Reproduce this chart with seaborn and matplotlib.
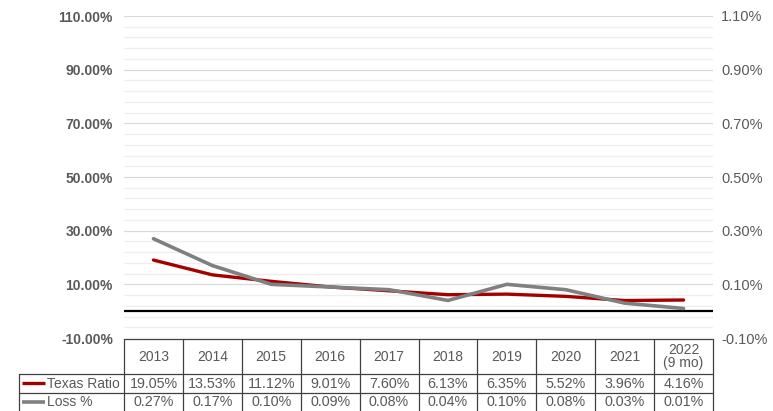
import matplotlib
matplotlib.use("Agg")
import matplotlib.pyplot as plt
import seaborn as sns
import pandas as pd
import numpy as np

sns.set_theme(style="white")
plt.rcParams['font.family'] = ['Liberation Sans', 'DejaVu Sans']

years = ["2013", "2014", "2015", "2016", "2017", "2018", "2019", "2020", "2021", "2022\n(9 mo)"]
texas_ratio = [19.05, 13.53, 11.12, 9.01, 7.60, 6.13, 6.35, 5.52, 3.96, 4.16]
loss_pct = [0.27, 0.17, 0.10, 0.09, 0.08, 0.04, 0.10, 0.08, 0.03, 0.01]
series_names = ["Texas Ratio", "Loss %"]
left_ticks = [-10, 10, 30, 50, 70, 90, 110]
right_ticks = [-0.10, 0.10, 0.30, 0.50, 0.70, 0.90, 1.10]

RED = "#A50000"
GREY = "#808080"
TXT = "#595959"

W, H = 773, 411
fig = plt.figure(figsize=(W / 100, H / 100), dpi=100)
L, R, T, B = 124, 713, 16, 338
ax = fig.add_axes([L / W, 1 - B / H, (R - L) / W, (B - T) / H])
ax.set_facecolor("none")

df = pd.DataFrame({"x": np.arange(len(years)), "texas": texas_ratio, "loss": loss_pct})

ax.set_xlim(-0.5, len(years) - 0.5)
ax.set_ylim(-10, 110)
ax.set_yticks(left_ticks)
ax.set_yticks(np.arange(-10, 111, 4), minor=True)
ax.set_yticklabels([f"{v:.2f}%" for v in left_ticks], fontsize=10, fontweight="bold", color=TXT)
ax.grid(True, which="major", axis="y", color="#D9D9D9", lw=0.9)
ax.grid(True, which="minor", axis="y", color="#EEEEEE", lw=0.9)
ax.set_xticks([])
ax.tick_params(axis="y", which="both", length=0, pad=8)
for s in ax.spines.values():
    s.set_visible(False)
ax.axhline(0, color="black", lw=1.6, zorder=3)

sns.lineplot(data=df, x="x", y="texas", ax=ax, color=RED, lw=2.4, zorder=4)
ax.set_xlabel("")
ax.set_ylabel("")

ax2 = ax.twinx()
ax2.set_ylim(-0.10, 1.10)
sns.lineplot(data=df, x="x", y="loss", ax=ax2, color=GREY, lw=2.6, zorder=5)
ax2.set_yticks(right_ticks)
ax2.set_yticklabels([f"{v:.2f}%" for v in right_ticks], fontsize=10.5, color=TXT)
ax2.tick_params(axis="y", length=0, pad=6)
ax2.set_xlabel("")
ax2.set_ylabel("")
ax2.set_xticks([])
for s in ax2.spines.values():
    s.set_visible(False)

# data table
tab = fig.add_axes([0, 0, 1, 1])
tab.set_xlim(0, W)
tab.set_ylim(H, 0)
tab.axis("off")
tab.set_facecolor("none")
LC = "#404040"
lw = 0.9
n = len(years)
colw = (R - L) / n
y_top, y_h, y_r1, y_r2 = 338.5, 373.5, 392.5, 411
x0 = 18.5
tab.plot([L, R], [y_top, y_top], color=LC, lw=lw)
tab.plot([x0, R], [y_h, y_h], color=LC, lw=lw)
tab.plot([x0, R], [y_r1, y_r1], color=LC, lw=lw)
tab.plot([x0, x0], [y_h, y_r2], color=LC, lw=lw)
for i in range(n + 1):
    xx = L + i * colw
    tab.plot([xx, xx], [y_top, y_r2], color=LC, lw=lw)
for i, yr in enumerate(years):
    cx = L + (i + 0.5) * colw
    tab.text(cx, (y_top + y_h) / 2 + 0.5, yr, ha="center", va="center", fontsize=10,
             color=TXT, linespacing=0.95)
    tab.text(cx, (y_h + y_r1) / 2 + 0.5, f"{texas_ratio[i]:.2f}%", ha="center", va="center",
             fontsize=10.3, color=TXT)
    tab.text(cx, (y_r1 + y_r2) / 2 + 0.5, f"{loss_pct[i]:.2f}%", ha="center", va="center",
             fontsize=10.3, color=TXT)
for (yc, name, col, w) in [((y_h + y_r1) / 2, series_names[0], RED, 2.4),
                           ((y_r1 + y_r2) / 2, series_names[1], GREY, 2.6)]:
    tab.plot([22, 45], [yc, yc], color=col, lw=w, solid_capstyle="butt")
    tab.text(47, yc + 0.5, name, ha="left", va="center", fontsize=10, color=TXT)

fig.savefig("out.png", dpi=100)
